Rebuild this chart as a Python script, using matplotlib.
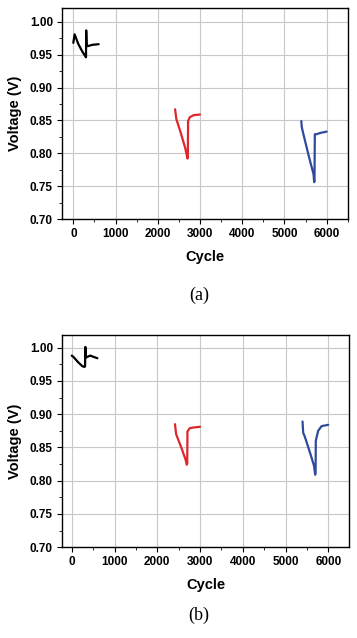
import matplotlib
matplotlib.use("Agg")
import matplotlib.pyplot as plt
import matplotlib.ticker as mticker

# ── data ─────────────────────────────────────────────────────────────────
# panel (a)
a_black_x = [0, 30, 120, 220, 300, 305, 315, 340, 450, 600]
a_black_y = [0.968, 0.981, 0.966, 0.954, 0.946, 0.987, 0.965, 0.963, 0.965, 0.966]
a_red_x = [2410, 2440, 2550, 2650, 2705, 2712, 2718, 2760, 2850, 3000]
a_red_y = [0.867, 0.852, 0.830, 0.808, 0.792, 0.796, 0.849, 0.855, 0.858, 0.859]
a_blue_x = [5400, 5410, 5450, 5580, 5690, 5705, 5712, 5720, 5760, 5850, 6000]
a_blue_y = [0.849, 0.840, 0.829, 0.795, 0.768, 0.756, 0.758, 0.829, 0.829, 0.831, 0.833]

# panel (b)
b_black_x = [0, 40, 150, 250, 300, 312, 318, 330, 430, 600]
b_black_y = [0.988, 0.986, 0.978, 0.972, 0.971, 0.972, 1.001, 0.985, 0.988, 0.984]
b_red_x = [2414, 2440, 2560, 2660, 2690, 2700, 2705, 2760, 2850, 3000]
b_red_y = [0.885, 0.870, 0.850, 0.832, 0.824, 0.826, 0.874, 0.879, 0.880, 0.881]
b_blue_x = [5395, 5410, 5450, 5600, 5665, 5690, 5700, 5705, 5760, 5840, 5995]
b_blue_y = [0.889, 0.872, 0.866, 0.836, 0.822, 0.809, 0.812, 0.860, 0.875, 0.882, 0.884]

x_ticks = [0, 1000, 2000, 3000, 4000, 5000, 6000]
y_ticks = [0.70, 0.75, 0.80, 0.85, 0.90, 0.95, 1.00]

BLACK = "#000000"
RED = "#e0262b"
BLUE = "#2f4a9c"
GRID = "#c8c8c8"
SANS = "Liberation Sans"
SERIF = "Liberation Serif"

panels = [
    dict(rect=[0.1737, 0.6567, 0.8010, 0.3302], xlim=(-268, 6505), ylim=(0.70, 1.0205),
         series=[(a_black_x, a_black_y, BLACK), (a_red_x, a_red_y, RED), (a_blue_x, a_blue_y, BLUE)],
         caption="(a)", cap_y=1 - 295 / 638),
    dict(rect=[0.1737, 0.1422, 0.8040, 0.3328], xlim=(-227, 6482), ylim=(0.70, 1.019),
         series=[(b_black_x, b_black_y, BLACK), (b_red_x, b_red_y, RED), (b_blue_x, b_blue_y, BLUE)],
         caption="(b)", cap_y=1 - 615 / 638),
]

fig = plt.figure(figsize=(3.57, 6.38), dpi=100)

for p in panels:
    ax = fig.add_axes(p["rect"])
    for xs, ys, col in p["series"]:
        ax.plot(xs, ys, color=col, lw=1.6, solid_joinstyle="round", solid_capstyle="round", zorder=3)

    ax.set_xlim(*p["xlim"])
    ax.set_ylim(*p["ylim"])
    ax.set_xticks(x_ticks)
    ax.set_yticks(y_ticks)
    ax.xaxis.set_minor_locator(mticker.MultipleLocator(500))
    ax.yaxis.set_minor_locator(mticker.MultipleLocator(0.025))
    ax.yaxis.set_major_formatter(mticker.FormatStrFormatter("%.2f"))
    ax.grid(True, which="major", color=GRID, lw=0.8, zorder=0)
    ax.set_axisbelow(True)

    ax.tick_params(which="major", direction="out", length=3.5, width=0.8, pad=3)
    ax.tick_params(which="minor", direction="out", length=2, width=0.6)
    for lab in ax.get_xticklabels() + ax.get_yticklabels():
        lab.set_fontfamily(SANS)
        lab.set_fontweight("bold")
        lab.set_fontsize(8.5)
    for s in ax.spines.values():
        s.set_linewidth(1.0)
        s.set_color("black")

    ax.set_xlabel("Cycle", family=SANS, fontweight="bold", fontsize=10.5, labelpad=7)
    ax.set_ylabel("Voltage (V)", family=SANS, fontweight="bold", fontsize=10.5, labelpad=6)

    fig.text(199 / 357, p["cap_y"], p["caption"], family=SERIF, fontsize=13,
             ha="center", va="center")

fig.savefig("out.png", dpi=100)
